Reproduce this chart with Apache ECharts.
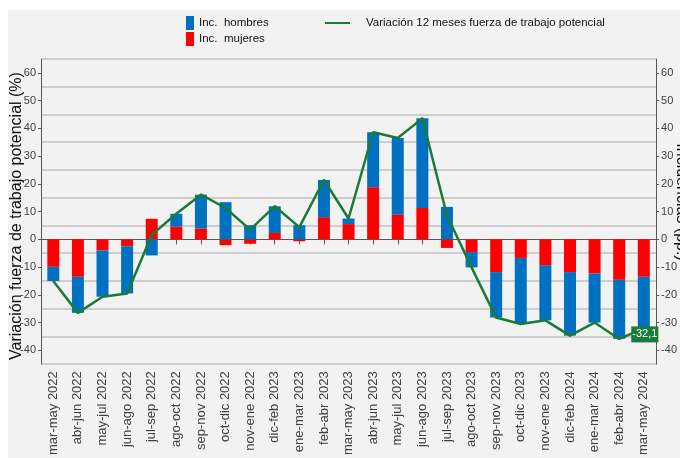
<!DOCTYPE html>
<html>
<head>
<meta charset="utf-8">
<script src="https://cdn.jsdelivr.net/npm/echarts@6/dist/echarts.min.js"></script>
<style>
  html, body { margin: 0; padding: 0; background: #fff; }
  #chart { width: 680px; height: 458px; }
</style>
</head>
<body>
<div id="chart"></div>
<script>
// periods (trimestres moviles)
var periodos = [
    'mar-may 2022', 'abr-jun 2022', 'may-jul 2022', 'jun-ago 2022', 'jul-sep 2022',
    'ago-oct 2022', 'sep-nov 2022', 'oct-dic 2022', 'nov-ene 2022', 'dic-feb 2023',
    'ene-mar 2023', 'feb-abr 2023', 'mar-may 2023', 'abr-jun 2023', 'may-jul 2023',
    'jun-ago 2023', 'jul-sep 2023', 'ago-oct 2023', 'sep-nov 2023', 'oct-dic 2023',
    'nov-ene 2023', 'dic-feb 2024', 'ene-mar 2024', 'feb-abr 2024', 'mar-may 2024'
];

// incidencias (pp.)
var incMujeres = [
    -9.9, -13.5, -4.0, -2.5, 7.4, 4.6, 3.9, -2.1, -1.6, 2.3,
    -0.7, 8.0, 5.5, 18.8, 8.9, 11.3, -3.1, -4.6, -11.8, -6.7,
    -9.3, -11.8, -12.3, -14.6, -13.5
];
var incHombres = [
    -5.1, -13.0, -16.7, -17.0, -5.8, 4.6, 12.2, 13.4, 5.1, 9.6,
    5.1, 13.4, 2.0, 19.8, 27.6, 32.3, 11.7, -5.5, -16.4, -23.8,
    -19.9, -22.9, -17.7, -21.3, -18.6
];

// variacion 12 meses fuerza de trabajo potencial (%)
var variacion = [
    -15.0, -26.5, -20.7, -19.5, 1.6, 9.2, 16.1, 11.3, 3.5, 11.9,
    4.4, 21.4, 7.5, 38.6, 36.5, 43.6, 8.6, -10.1, -28.2, -30.5,
    -29.2, -34.7, -30.0, -35.9, -32.1
];

var etiquetasEje = [-40, -30, -20, -10, 0, 10, 20, 30, 40, 50, 60];

var FONT = 'Liberation Sans, Arial, sans-serif';
var VERDE = '#1a7a3a';

// only the last point carries a label
var lineData = variacion.map(function(v, i) {
    if (i === variacion.length - 1) {
        return {
            value: v,
            label: {
                show: true,
                position: 'inside',
                offset: [1, 6],
                formatter: function(p) { return String(p.value).replace('.', ','); },
                color: '#fff',
                fontSize: 11,
                fontFamily: FONT,
                backgroundColor: VERDE,
                padding: [3, 1, 2, 1]
            }
        };
    }
    return v;
});

var chart = echarts.init(document.getElementById('chart'), null, { renderer: 'canvas' });

var labelAxis = function(pos) {
    return {
        type: 'value',
        position: pos,
        min: -45,
        max: 65,
        splitLine: { show: false },
        axisLine: { show: true, lineStyle: { color: '#595959', width: 1 } },
        axisTick: { show: true, customValues: etiquetasEje, length: 3, lineStyle: { color: '#595959' } },
        axisLabel: {
            customValues: etiquetasEje,
            color: '#404040',
            fontSize: 11,
            fontFamily: FONT,
            margin: 5
        }
    };
};

var option = {
    animation: false,
    graphic: [
        {
            type: 'rect',
            z: -100,
            shape: { x: 8, y: 10, width: 672, height: 448 },
            style: { fill: '#f2f2f2' }
        },
        {
            type: 'text',
            x: 17, y: 216,
            rotation: Math.PI / 2,
            style: {
                text: 'Variación fuerza de trabajo potencial (%)',
                fill: '#111',
                font: '16px ' + FONT,
                align: 'center',
                verticalAlign: 'middle'
            }
        },
        {
            type: 'text',
            x: 681, y: 202,
            rotation: -Math.PI / 2,
            style: {
                text: 'Incidencias (pp.)',
                fill: '#111',
                font: '16px ' + FONT,
                align: 'center',
                verticalAlign: 'middle'
            }
        }
    ],
    legend: [
        {
            orient: 'vertical',
            left: 186,
            top: 16,
            padding: 0,
            itemWidth: 8,
            itemHeight: 14,
            itemGap: 2,
            icon: 'rect',
            data: ['Inc.  hombres', 'Inc.  mujeres'],
            textStyle: { color: '#111', fontSize: 11.5, fontFamily: FONT }
        },
        {
            left: 325,
            top: 17,
            padding: 0,
            itemWidth: 25,
            itemHeight: 2,
            icon: 'rect',
            data: ['Variación 12 meses fuerza de trabajo potencial'],
            textStyle: { color: '#111', fontSize: 11.5, fontFamily: FONT, padding: [0, 0, 0, 11] }
        }
    ],
    grid: { left: 41, right: 22, top: 59, bottom: 93, containLabel: false },
    xAxis: {
        type: 'category',
        data: periodos,
        axisLine: { show: true, lineStyle: { color: '#595959', width: 1 } },
        axisTick: { show: true, alignWithLabel: true, length: 5, lineStyle: { color: '#595959' } },
        axisLabel: {
            interval: 0,
            rotate: 90,
            color: '#404040',
            fontSize: 13,
            fontFamily: FONT,
            margin: 7
        }
    },
    yAxis: [
        {
            // gridlines only
            type: 'value',
            position: 'left',
            min: -45,
            max: 65,
            interval: 10,
            axisLine: { show: false },
            axisTick: { show: false },
            axisLabel: { show: false },
            splitLine: { show: true, lineStyle: { color: '#c0c0c0', width: 1.5 } }
        },
        labelAxis('left'),
        labelAxis('right')
    ],
    series: [
        {
            name: 'Inc.  mujeres',
            type: 'bar',
            stack: 'inc',
            yAxisIndex: 1,
            barWidth: 12,
            itemStyle: { color: '#ff0000' },
            data: incMujeres
        },
        {
            name: 'Inc.  hombres',
            type: 'bar',
            stack: 'inc',
            yAxisIndex: 1,
            barWidth: 12,
            itemStyle: { color: '#0070c0' },
            data: incHombres
        },
        {
            name: 'Variación 12 meses fuerza de trabajo potencial',
            type: 'line',
            yAxisIndex: 1,
            z: 5,
            symbol: 'circle',
            symbolSize: 2,
            showSymbol: true,
            lineStyle: { color: VERDE, width: 2.5 },
            itemStyle: { color: VERDE },
            data: lineData
        }
    ]
};

chart.setOption(option);
</script>
</body>
</html>
